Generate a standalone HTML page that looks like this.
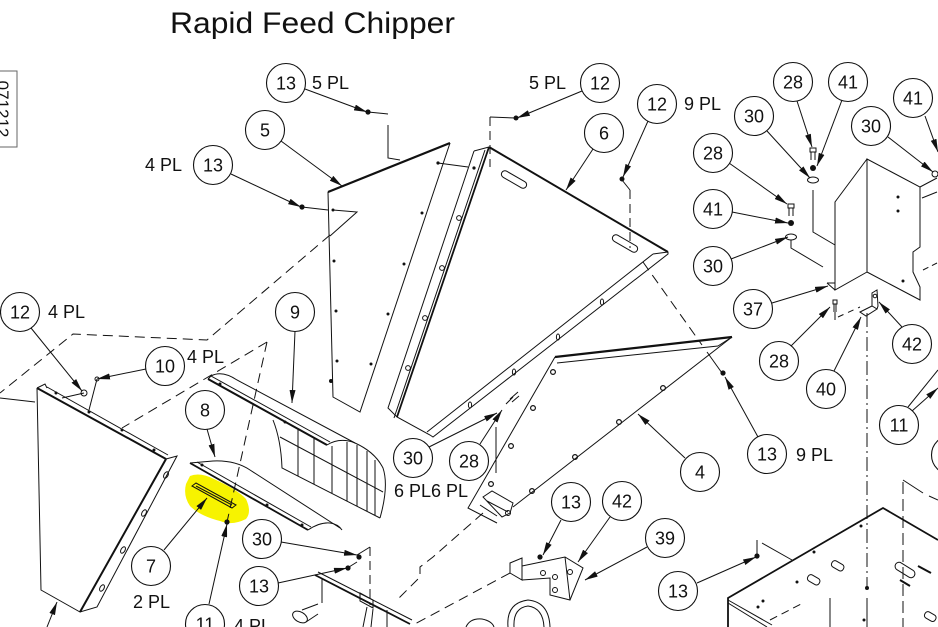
<!DOCTYPE html>
<html><head><meta charset="utf-8"><style>
html,body{margin:0;padding:0;background:#fff;}
svg{display:block;}
text{font-family:"Liberation Sans",Arial,sans-serif;fill:#111;}
</style></head><body>
<svg width="938" height="627" viewBox="0 0 938 627" xmlns="http://www.w3.org/2000/svg">
<defs>
<marker id="a" viewBox="0 0 13 6" refX="13" refY="3" markerWidth="13" markerHeight="6" orient="auto" markerUnits="userSpaceOnUse"><path d="M0,0 L13,3 L0,6 z" fill="#111"/></marker>
</defs>
<rect width="938" height="627" fill="#fff"/>

<!-- yellow highlight -->
<path d="M190,476 Q200,472 214,479 Q238,490 246,499 Q252,512 246,519 Q232,526 220,521 Q200,516 190,506 Q183,496 186,484 Z" fill="#f7f300"/>

<text x="170" y="33" font-size="30" textLength="285" lengthAdjust="spacingAndGlyphs">Rapid Feed Chipper</text>

<!-- side box -->
<text transform="translate(-3,109) rotate(90)" font-size="17" text-anchor="middle">071212</text>
<rect x="-1" y="71" width="18" height="76" fill="none" stroke="#666" stroke-width="1"/>

<g stroke="#111" fill="none" stroke-width="1">
<!-- ===== Part 5 ===== -->
<path d="M328,192 L333,397 L360,412 L450,143"/>
<path d="M328,192 L450,143" stroke-width="2.2"/>
<path d="M302,207 L328,210"/>
<path d="M333,210 L357,212 L330,236"/>
<path d="M368,112 L388,114 M388,125 L388,158 L400,160"/>
<path d="M438,163 L468,167"/>

<!-- ===== Part 6 ===== -->
<path d="M474,151 L388,408 L397,417 L430,435 L433,437 L668,254 L668,252"/>
<path d="M474,151 L489,147"/>
<path d="M489,147 L397,417" stroke-width="1.8"/>
<path d="M485,150 L394,418"/>
<path d="M489,147 L668,252" stroke-width="2"/>
<path d="M653,254 L427,432 M653,254 L668,252"/>
<rect x="500" y="176" width="28" height="7" rx="3.5" transform="rotate(30 514 179.5)"/>
<rect x="611" y="240" width="28" height="7" rx="3.5" transform="rotate(30 625 243.5)"/>
<g>
<circle cx="459" cy="218" r="2.4"/><circle cx="442" cy="268" r="2.4"/><circle cx="425" cy="318" r="2.4"/><circle cx="408" cy="368" r="2.4"/>
<ellipse cx="602" cy="302" rx="1.6" ry="3"/><ellipse cx="558" cy="337" rx="1.6" ry="3"/><ellipse cx="514" cy="372" rx="1.6" ry="3"/><ellipse cx="470" cy="405" rx="1.6" ry="3"/>
</g>
<!-- dashed from 12 5PL -->
<path d="M516,118 L490,117"/>
<path d="M490,117 L490,167" stroke-dasharray="9 5"/>
<!-- dashed from 12 9PL -->
<path d="M622,180 L630,190"/>
<path d="M630,190 L630,248" stroke-dasharray="9 5"/>
<path d="M643,262 L702,345" stroke-dasharray="10 6"/>
<path d="M707,352 L722,373"/>

<!-- ===== Part 4 ===== -->
<path d="M555,357 L732,337" stroke-width="2.2"/>
<path d="M557,363 L718,346"/>
<path d="M732,337 L718,346"/>
<path d="M555,357 L468,508 L497,523"/>
<path d="M732,337 L513,507"/>
<path d="M483,497 L492,491 L513,503 L510,513 L502,517 Z"/>
<path d="M487,501 L508,512 M480,505 L497,516"/>
<circle cx="508" cy="513" r="2.5"/>
<path d="M496,427 L496,473"/>
<path d="M510,399 L518,392 M506,404 L513,397 M512,402 L519,396"/>
<g stroke-width="1.2">
<circle cx="553" cy="372" r="2.4"/><circle cx="533" cy="408" r="2.4"/><circle cx="511" cy="446" r="2.4"/><circle cx="491" cy="484" r="2.4"/>
<circle cx="663" cy="388" r="2.4"/><circle cx="619" cy="422" r="2.4"/><circle cx="575" cy="457" r="2.4"/><circle cx="532" cy="491" r="2.4"/>
</g>

<!-- ===== Part 9 ===== -->
<path d="M208,379 L327,445" stroke-width="2"/>
<path d="M211,376 L330,442 M208,379 L211,376"/>
<path d="M211,376 Q222,370 237,380 L355,443 Q375,452 383,468 Q389,486 380,518"/>
<path d="M327,445 Q340,437 355,443"/>
<path d="M273,420 Q281,440 282,468 L380,518"/>
<path d="M280,437 L383,492"/>
<path d="M298,429 L298,476 M314,438 L314,484 M332,446 L332,493 M347,442 L347,501 M357,445 L357,506 M367,451 L367,511 M375,460 L375,515"/>

<!-- ===== Part 8 ===== -->
<path d="M190,463 L308,530" stroke-width="1.8"/>
<path d="M197,462 L311,527"/>
<path d="M190,463 L213,461 Q235,460 250,470 L340,528"/>
<path d="M308,530 Q320,522 330,523 Q338,524 342,530"/>

<!-- ===== Part 7 ===== -->
<path d="M192,486 L196,483 L236,505 L232,508 Z"/>
<path d="M196,486 L232,505"/>

<!-- dashed construction lines left -->
<path d="M330,235 L207,340 L73,334 L0,393" stroke-dasharray="10 6"/>
<path d="M0,398 L35,402"/>
<path d="M267,342 L122,428 M267,342 L227,522" stroke-dasharray="10 6"/>

<!-- ===== Left panel ===== -->
<path d="M37,388 L41,590 L80,612 L97,607 L177,456 L166,459"/>
<path d="M37,388 L166,459" stroke-width="2"/>
<path d="M37,388 L45,384 L47,388 M47,387 L168,455"/>
<path d="M166,459 L80,612" stroke-width="2"/>
<ellipse cx="166" cy="475" rx="2" ry="3.5" transform="rotate(30 166 475)"/>
<ellipse cx="144" cy="513" rx="2" ry="3.5" transform="rotate(30 144 513)"/>
<ellipse cx="123" cy="550" rx="2" ry="3.5" transform="rotate(30 123 550)"/>
<ellipse cx="102" cy="588" rx="2" ry="3.5" transform="rotate(30 102 588)"/>
<circle cx="84" cy="393" r="3"/>
<path d="M84,393 L62,398"/>
<path d="M97,379 L89,410"/>
<circle cx="97" cy="379" r="2"/>
<path d="M47,627 L57,602" marker-end="url(#a)"/>

<!-- ===== Right side: part 37 ===== -->
<path d="M867,159 L835,202 L835,290 L867,272 L867,159 L920,187 L920,247 L913,252 L913,272 L920,287 L920,300 L867,272"/>
<path d="M827,283 L835,283 M827,283 L835,290"/>
<path d="M920,187 L937,178 M922,198 L937,192"/>
<path d="M923,270 L937,263" stroke-dasharray="6 4"/>
<!-- fastener stacks -->
<path d="M810,148 L816,148 L816,152 L810,152 Z M811,152 L811,160 M815,152 L815,160"/>
<ellipse cx="813" cy="180" rx="5.5" ry="3"/>
<path d="M813,190 L813,232 L835,245"/>
<path d="M788,204 L794,204 L794,208 L788,208 Z M789,208 L789,216 M793,208 L793,216"/>
<ellipse cx="791" cy="237" rx="5.5" ry="3"/>
<path d="M791,240 L791,248 L823,267"/>
<path d="M833,300 L837,300 L837,304 L833,304 Z M834,304 L834,312 M836,304 L836,312 M835,312 L835,320"/>
<path d="M838,317 L860,307" stroke-dasharray="6 5"/>
<!-- part 40 bracket -->
<path d="M860,312 L872,306 L877,309 L866,316 Z"/>
<path d="M872,306 L872,293 L877,290 L878,306 L877,309"/>
<circle cx="875" cy="296" r="1.8"/>
<!-- dash-dot verticals -->
<path d="M867,313 L867,588" stroke-dasharray="14 4 2 4"/>
<path d="M867,598 L867,627"/>
<path d="M903,482 L903,627" stroke-dasharray="12 5"/>
<path d="M903,480 L923,493"/>
<path d="M929,496 L938,500"/>
<circle cx="935" cy="174" r="3"/>

<!-- ===== Bottom right chassis ===== -->
<path d="M728,627 L728,598 L883,508 L938,540" stroke-width="1.8"/>
<path d="M728,600 L772,625 M728,603 L767,627"/>
<path d="M830,598 L830,627"/>
<path d="M770,620 L803,603" stroke-dasharray="8 5"/>
<path d="M757,540 L757,555 M762,543 L792,560"/>
<rect x="831" y="562" width="13" height="7" rx="3" transform="rotate(30 837 566)"/>
<rect x="807" y="576" width="13" height="7" rx="3" transform="rotate(30 813 580)"/>
<rect x="894" y="566" width="22" height="8" rx="4" transform="rotate(32 905 570)"/>
<path d="M918,566 L931,573 M900,580 L910,586" stroke-width="2"/>
<rect x="924" y="613" width="12" height="7" rx="3" transform="rotate(30 930 617)"/>

<!-- ===== Part 42/39 bracket ===== -->
<path d="M510,563 L522,558 L522,580 L510,573 Z"/>
<path d="M522,566 L565,557 L583,568 L570,600 L550,595 L550,578 L522,580"/>
<path d="M565,557 L570,600"/>
<circle cx="543" cy="573" r="2.5"/><circle cx="555" cy="577" r="2.5"/><circle cx="570" cy="572" r="2.5"/><circle cx="555" cy="590" r="2.5"/>
<path d="M510,573 L413,625" stroke-dasharray="10 6"/>
<path d="M483,513 L433,557 L420,567 L420,577 L397,600" stroke-dasharray="10 6"/>

<!-- ===== bottom center parts ===== -->
<path d="M357,555 L370,547"/>
<path d="M370,547 L370,605" stroke-dasharray="9 5"/>
<path d="M349,567 L357,562"/>
<path d="M315,575 L410,624" stroke-width="1.8"/>
<path d="M318,572 L412,620 M322,578 L322,603"/>
<path d="M360,593 L373,600 L373,608 L360,601 Z"/>
<path d="M367,607 L363,627 M373,609 L371,627 M387,610 L387,627"/>
<ellipse cx="300" cy="617" rx="5" ry="8" transform="rotate(-60 300 617)"/>
<path d="M302,610 L318,604 M306,622 L318,614"/>
<path d="M508,627 Q506,603 528,600 Q549,602 550,627"/>
<path d="M514,627 Q513,608 528,606 Q543,608 544,627"/>
<path d="M466,627 Q470,618 482,619 Q492,621 494,627"/>
</g>

<!-- filled dots / nuts -->
<g fill="#111">
<circle cx="302" cy="207" r="2.6"/><circle cx="368" cy="112" r="2.6"/><circle cx="438" cy="163" r="1.6"/><circle cx="474" cy="168" r="1.6"/>
<circle cx="333" cy="210" r="1.5"/><circle cx="334" cy="261" r="1.5"/><circle cx="336" cy="311" r="1.5"/><circle cx="337" cy="361" r="1.5"/>
<circle cx="422" cy="213" r="1.5"/><circle cx="404" cy="264" r="1.5"/><circle cx="388" cy="314" r="1.5"/><circle cx="371" cy="364" r="1.5"/>
<circle cx="331" cy="381" r="2"/>
<circle cx="516" cy="118" r="2.5"/><circle cx="622" cy="179" r="2.5"/><circle cx="723" cy="373" r="2.6"/>
<circle cx="56" cy="393" r="1.5"/><circle cx="89" cy="412" r="1.5"/><circle cx="122" cy="430" r="1.5"/><circle cx="154" cy="450" r="1.5"/>
<circle cx="220" cy="384" r="1.5"/><circle cx="285" cy="422" r="1.5"/>
<circle cx="202" cy="465" r="1.5"/><circle cx="267" cy="505" r="1.5"/><circle cx="302" cy="525" r="1.5"/>
<circle cx="227" cy="522" r="2.6"/>
<circle cx="813" cy="168" r="3"/><circle cx="791" cy="223" r="3"/>
<circle cx="898" cy="197" r="1.5"/><circle cx="898" cy="211" r="1.5"/><circle cx="903" cy="281" r="1.5"/>
<circle cx="867" cy="588" r="2"/><circle cx="864" cy="620" r="1.5"/>
<circle cx="861" cy="526" r="1.5"/><circle cx="814" cy="552" r="1.5"/><circle cx="797" cy="582" r="1.5"/><circle cx="763" cy="601" r="1.5"/><circle cx="758" cy="607" r="1.5"/>
<circle cx="757" cy="556" r="2.6"/>
<circle cx="540" cy="557" r="2.6"/>
<circle cx="359" cy="557" r="2.6"/><circle cx="348" cy="568" r="2.6"/>
</g>

<!-- leaders -->
<g stroke="#111" stroke-width="1" fill="none" marker-end="url(#a)">
<path d="M305,89 L367,112"/>
<path d="M281,141 L342,186"/>
<path d="M231,174 L301,207"/>
<path d="M582,91 L517,118"/>
<path d="M593,149 L566,190"/>
<path d="M648,121 L623,177"/>
<path d="M797,101 L812,147"/>
<path d="M842,100 L817,166"/>
<path d="M767,131 L810,178"/>
<path d="M925,116 L938,152"/>
<path d="M888,137 L933,172"/>
<path d="M729,163 L787,204"/>
<path d="M732,212 L788,223"/>
<path d="M731,259 L788,237"/>
<path d="M772,303 L828,286"/>
<path d="M791,346 L830,307"/>
<path d="M834,371 L861,317"/>
<path d="M902,327 L879,302"/>
<path d="M912,411 L938,388"/>
<path d="M31,328 L82,391"/>
<path d="M146,369 L97,379"/>
<path d="M295,331 L292,403"/>
<path d="M207,429 L215,457"/>
<path d="M164,550 L207,498"/>
<path d="M209,604 L227,524"/>
<path d="M281,542 L357,555"/>
<path d="M278,583 L347,568"/>
<path d="M429,447 L497,413"/>
<path d="M480,444 L502,410"/>
<path d="M685,458 L638,414"/>
<path d="M758,437 L725,377"/>
<path d="M561,520 L543,555"/>
<path d="M610,517 L578,562"/>
<path d="M647,547 L585,580"/>
<path d="M697,583 L756,557"/>
</g>
<path d="M908,407 L938,370" stroke="#111" stroke-width="1"/>

<!-- balloons -->
<g stroke="#111" stroke-width="1.1" fill="#fff">
<circle cx="286" cy="83" r="19.5"/><circle cx="265" cy="130" r="19.5"/><circle cx="213" cy="165" r="19.5"/>
<circle cx="600" cy="83" r="19.5"/><circle cx="604" cy="133" r="19.5"/><circle cx="657" cy="104" r="19.5"/>
<circle cx="793" cy="82" r="19.5"/><circle cx="848" cy="82" r="19.5"/><circle cx="754" cy="116" r="19.5"/>
<circle cx="913" cy="98" r="19.5"/><circle cx="871" cy="126" r="19.5"/>
<circle cx="713" cy="153" r="19.5"/><circle cx="713" cy="209" r="19.5"/><circle cx="713" cy="266" r="19.5"/>
<circle cx="753" cy="309" r="19.5"/><circle cx="779" cy="361" r="19.5"/><circle cx="826" cy="389" r="19.5"/>
<circle cx="912" cy="344" r="19.5"/><circle cx="899" cy="425" r="19.5"/><circle cx="951" cy="455" r="19.5"/>
<circle cx="20" cy="312" r="19.5"/><circle cx="165" cy="366" r="19.5"/><circle cx="295" cy="312" r="19.5"/>
<circle cx="205" cy="410" r="19.5"/><circle cx="151" cy="566" r="19.5"/><circle cx="205" cy="624" r="19.5"/>
<circle cx="262" cy="539" r="19.5"/><circle cx="259" cy="586" r="19.5"/>
<circle cx="413" cy="458" r="19.5"/><circle cx="469" cy="461" r="19.5"/>
<circle cx="700" cy="472" r="19.5"/><circle cx="767" cy="454" r="19.5"/>
<circle cx="571" cy="502" r="19.5"/><circle cx="622" cy="501" r="19.5"/><circle cx="665" cy="538" r="19.5"/><circle cx="678" cy="591" r="19.5"/>
</g>
<g font-size="18" text-anchor="middle">
<text x="286" y="89.5">13</text><text x="265" y="136.5">5</text><text x="213" y="171.5">13</text>
<text x="600" y="89.5">12</text><text x="604" y="139.5">6</text><text x="657" y="110.5">12</text>
<text x="793" y="88.5">28</text><text x="848" y="88.5">41</text><text x="754" y="122.5">30</text>
<text x="913" y="104.5">41</text><text x="871" y="132.5">30</text>
<text x="713" y="159.5">28</text><text x="713" y="215.5">41</text><text x="713" y="272.5">30</text>
<text x="753" y="315.5">37</text><text x="779" y="367.5">28</text><text x="826" y="395.5">40</text>
<text x="912" y="350.5">42</text><text x="899" y="431.5">11</text>
<text x="20" y="318.5">12</text><text x="165" y="372.5">10</text><text x="295" y="318.5">9</text>
<text x="205" y="416.5">8</text><text x="151" y="572.5">7</text><text x="205" y="630.5">11</text>
<text x="262" y="545.5">30</text><text x="259" y="592.5">13</text>
<text x="413" y="464.5">30</text><text x="469" y="467.5">28</text>
<text x="700" y="478.5">4</text><text x="767" y="460.5">13</text>
<text x="571" y="508.5">13</text><text x="622" y="507.5">42</text><text x="665" y="544.5">39</text><text x="678" y="597.5">13</text>
</g>
<g font-size="18">
<text x="312" y="89">5 PL</text>
<text x="145" y="171">4 PL</text>
<text x="529" y="89">5 PL</text>
<text x="684" y="110">9 PL</text>
<text x="48" y="318">4 PL</text>
<text x="187" y="363">4 PL</text>
<text x="133" y="608">2 PL</text>
<text x="234" y="632">4 PL</text>
<text x="394" y="497">6 PL6 PL</text>
<text x="796" y="461">9 PL</text>
</g>
</svg>
</body></html>
